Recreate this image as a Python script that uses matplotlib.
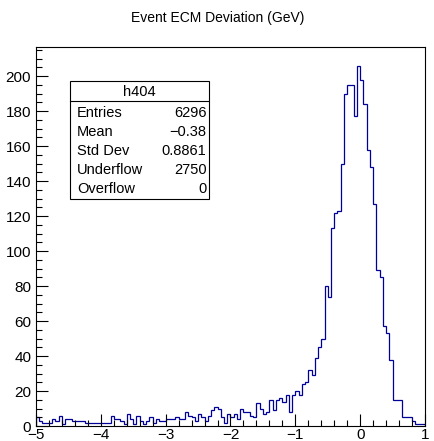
import numpy as np
import matplotlib
matplotlib.use("Agg")
import matplotlib.pyplot as plt
from matplotlib.patches import Rectangle
from matplotlib.ticker import MultipleLocator

plt.rcParams['font.family'] = ['Liberation Sans', 'DejaVu Sans']

# ---- data (120 bins of width 0.05 on [-5, 1]) ----
bin_lo = -5.0
bin_hi = 1.0
counts = [
    5, 3, 2, 2, 2, 4, 3, 6, 1, 4,
    4, 3, 3, 3, 3, 2, 2, 2, 2, 2,
    2, 2, 2, 6, 4, 4, 3, 1, 7, 4,
    1, 6, 3, 1, 3, 5, 2, 4, 3, 3,
    4, 4, 4, 5, 4, 4, 8, 6, 5, 3,
    7, 5, 3, 6, 9, 11, 10, 5, 2, 7,
    5, 7, 4, 10, 8, 8, 6, 5, 13, 10,
    7, 8, 15, 9, 15, 16, 14, 18, 8, 18,
    20, 18, 24, 25, 32, 29, 39, 45, 50, 80,
    74, 113, 122, 123, 150, 190, 195, 195, 177, 206,
    198, 184, 158, 148, 127, 89, 85, 57, 53, 38,
    15, 15, 15, 5, 5, 5, 3, 1, 1, 1,
]
title = "Event ECM Deviation (GeV)"
hist_name = "h404"
stat_labels = ["Entries", "Mean", "Std Dev", "Underflow", "Overflow"]
stat_values = ["6296", "\u22120.38", "0.8861", "2750", "0"]
x_ticks = [-5, -4, -3, -2, -1, 0, 1]
y_ticks = [0, 20, 40, 60, 80, 100, 120, 140, 160, 180, 200]

W, H = 435, 441
fig = plt.figure(figsize=(W / 100, H / 100), dpi=100)
ax = fig.add_axes([36 / W, 15 / H, 389 / W, (426 - 47.5) / H])

edges = np.linspace(bin_lo, bin_hi, len(counts) + 1)
ax.stairs(counts, edges, baseline=0, fill=False, color='#000099', linewidth=0.9)

ax.set_xlim(bin_lo, bin_hi)
ax.set_ylim(0, max(counts) * 1.05)
ax.set_xticks(x_ticks)
ax.set_xticklabels([str(t).replace('-', '\u2212') for t in x_ticks])
ax.set_yticks(y_ticks)
ax.set_yticklabels([str(t) for t in y_ticks])
ax.xaxis.set_minor_locator(MultipleLocator(0.2))
ax.yaxis.set_minor_locator(MultipleLocator(5))
ax.tick_params(which='both', direction='in', top=False, right=False, width=0.8)
ax.tick_params(which='major', length=8.5)
ax.tick_params(which='minor', length=4.3)
ax.tick_params(axis='x', which='major', labelsize=11, pad=1.5)
ax.tick_params(axis='y', which='major', labelsize=11, pad=3.5)
for s in ax.spines.values():
    s.set_linewidth(0.8)

fig.text(0.5, 1 - 18 / H, title, ha='center', va='center', fontsize=10)

# stats box
def fx(x):
    return x / W

def fy(y):
    return 1 - y / H

bx0, bx1, by0, by1 = 70, 208.5, 81, 199
fig.patches.append(Rectangle((fx(bx0), fy(by1)), fx(bx1) - fx(bx0), fy(by0) - fy(by1),
                             transform=fig.transFigure, facecolor='white',
                             edgecolor='black', linewidth=0.8, zorder=5))
fig.lines.append(plt.Line2D([fx(bx0), fx(bx1)], [fy(100.7), fy(100.7)],
                            transform=fig.transFigure, color='black', linewidth=0.8, zorder=6))
fig.text(fx((bx0 + bx1) / 2), fy(91.5), hist_name, ha='center', va='center', fontsize=10.5, zorder=7)
rows_y = [113.3, 132.0, 151.0, 170.0, 189.0]
for lab, val, yy in zip(stat_labels, stat_values, rows_y):
    fig.text(fx(77), fy(yy), lab, ha='left', va='center', fontsize=10.5, zorder=7)
    fig.text(fx(206.5), fy(yy), val, ha='right', va='center', fontsize=10.5, zorder=7)

fig.savefig('out.png', dpi=100)
